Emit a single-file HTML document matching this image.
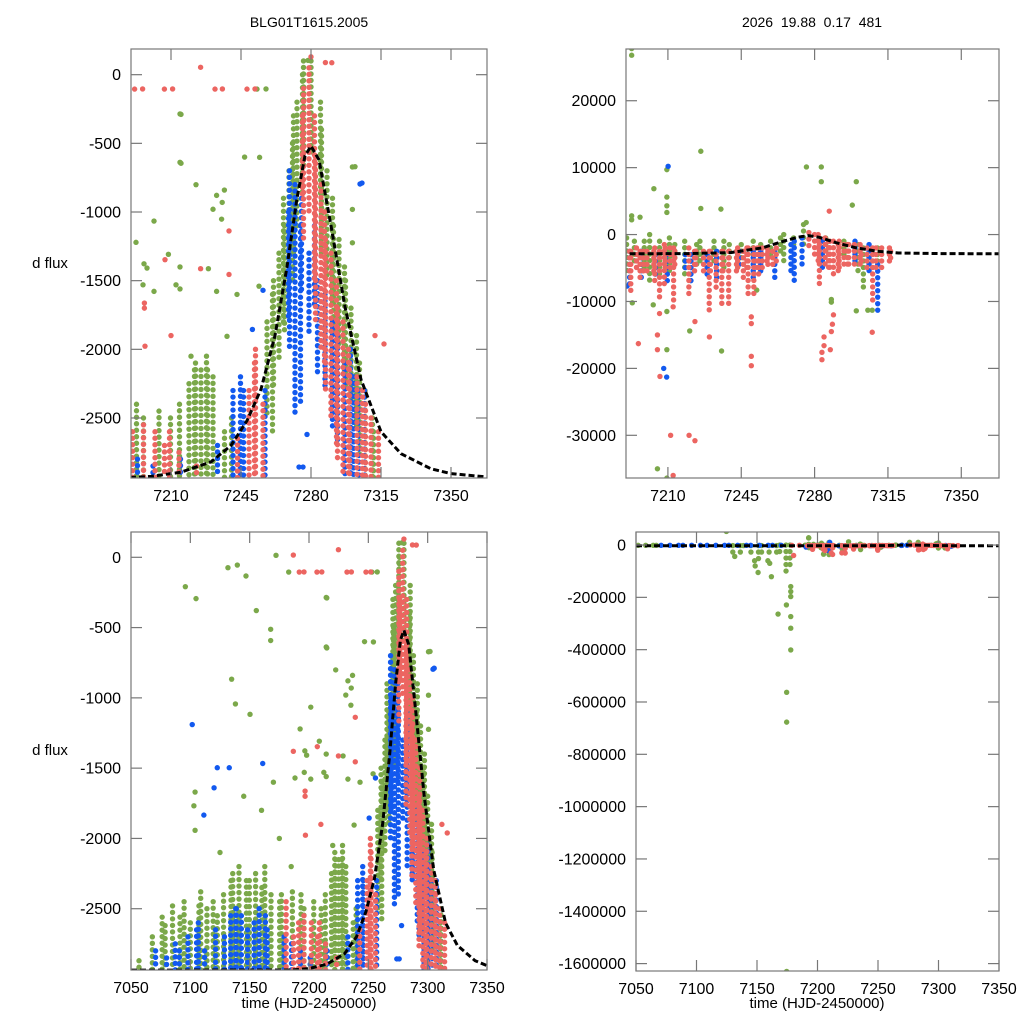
<!DOCTYPE html>
<html><head><meta charset="utf-8">
<style>
html,body{margin:0;padding:0;background:#fff;width:1024px;height:1024px;overflow:hidden;}
svg{display:block;font-family:"Liberation Sans",Arial,sans-serif;}
</style></head>
<body>
<svg id="chart" width="1024" height="1024" viewBox="0 0 1024 1024" xmlns="http://www.w3.org/2000/svg">
<rect x="0" y="0" width="1024" height="1024" fill="#fff"/>
<text x="309" y="27" font-size="14" text-anchor="middle">BLG01T1615.2005</text>
<text x="812" y="27" font-size="14" text-anchor="middle" xml:space="preserve">2026  19.88  0.17  481</text>
<text x="50" y="268" font-size="15" text-anchor="middle">d flux</text>
<text x="50" y="755" font-size="15" text-anchor="middle">d flux</text>
<text x="309" y="1008" font-size="15" text-anchor="middle">time (HJD-2450000)</text>
<text x="817" y="1008" font-size="15" text-anchor="middle">time (HJD-2450000)</text>
<g id="panels"></g>
</svg>
<script>
// ---- tick labels ----
const topXTicks = [7210, 7245, 7280, 7315, 7350];
const bottomXTicks = [7050, 7100, 7150, 7200, 7250, 7300, 7350];
const leftYTicks = [0, -500, -1000, -1500, -2000, -2500];
const topRightYTicks = [20000, 10000, 0, -10000, -20000, -30000];
const bottomRightYTicks = [0, -200000, -400000, -600000, -800000, -1000000, -1200000, -1400000, -1600000];

// ---- model curves ----
const leftModelT = [7050, 7185, 7200, 7215, 7230, 7240, 7248, 7255, 7262, 7268, 7273, 7277, 7280, 7284, 7290, 7297, 7305, 7315, 7325, 7340, 7350, 7368];
const leftModelF = [-2937, -2936, -2925, -2895, -2820, -2700, -2520, -2290, -1900, -1400, -900, -590, -520, -620, -1100, -1690, -2220, -2600, -2760, -2870, -2905, -2930];
const rightModelT = [7050, 7190, 7220, 7240, 7255, 7265, 7272, 7277, 7282, 7290, 7300, 7310, 7320, 7340, 7368];
const rightModelF = [-2900, -2880, -2850, -2700, -2000, -1000, -400, -150, -400, -1200, -2000, -2500, -2750, -2850, -2880];

// ---- left dataset streaks [t, top, bottom] ----
const leftGreenStreaks = [[7058,-2870,-2936],[7068,-2700,-2936],[7075,-2560,-2936],[7080,-2620,-2936],[7085,-2480,-2936],[7090,-2560,-2936],[7096,-2450,-2936],[7100,-2600,-2936],[7106,-2480,-2936],[7110,-2380,-2936],[7114,-2500,-2936],[7118,-2450,-2936],[7124,-2550,-2936],[7128,-2400,-2936],[7133,-2300,-2936],[7137,-2250,-2936],[7141,-2200,-2936],[7146,-2300,-2936],[7151,-2300,-2936],[7155,-2250,-2936],[7159,-2350,-2936],[7164,-2200,-2936],[7168,-2400,-2936],[7174,-2450,-2936],[7178,-2400,-2936],[7186,-2380,-2936],[7192,-2400,-2936],[7197,-2500,-2936],[7204,-2450,-2936],[7209,-2500,-2936],[7215,-2400,-2936],[7219,-2250,-2936],[7221,-2150,-2936],[7223,-2100,-2936],[7225,-2150,-2936],[7227,-2050,-2936],[7229,-2150,-2936],[7231,-2200,-2936],[7236,-2600,-2936],[7241,-2500,-2936],[7258,-1800,-2500],[7260,-1600,-2600],[7262,-1500,-2300],[7264,-1300,-2100],[7266,-1100,-1900],[7267,-900,-1800],[7269,-700,-1600],[7270,-500,-1500],[7272,-300,-1300],[7273,-200,-1100],[7275,0,-900],[7277,100,-700],[7280,100,-600],[7284,-200,-900],[7286,-400,-1300],[7288,-700,-1500],[7290,-900,-1700],[7292,-1100,-1900],[7294,-1200,-2000],[7296,-1400,-2200],[7298,-1500,-2300],[7300,-1700,-2400],[7302,-1900,-2600],[7305,-2100,-2800],[7307,-2300,-2936],[7310,-2500,-2936],[7312,-2600,-2936]];
const leftBlueStreaks = [[7072,-2800,-2936],[7080,-2850,-2936],[7086,-2750,-2936],[7092,-2800,-2936],[7098,-2700,-2936],[7104,-2650,-2936],[7108,-2600,-2936],[7112,-2800,-2936],[7120,-2650,-2936],[7130,-2700,-2936],[7134,-2550,-2936],[7137,-2500,-2936],[7140,-2500,-2936],[7143,-2550,-2936],[7147,-2650,-2936],[7155,-2600,-2936],[7158,-2500,-2936],[7162,-2550,-2936],[7166,-2650,-2936],[7179,-2700,-2936],[7184,-2750,-2936],[7194,-2800,-2936],[7201,-2850,-2936],[7214,-2800,-2936],[7234,-2700,-2936],[7241,-2300,-2936],[7244,-2200,-2936],[7247,-2300,-2936],[7257,-2300,-2936],[7268,-1000,-1800],[7270,-700,-2000],[7272,-800,-2500],[7274,-1100,-2400],[7276,-900,-1600],[7279,-1300,-1900],[7281,-1100,-1700],[7284,-1500,-2200],[7287,-1600,-2300],[7290,-1800,-2600],[7294,-1900,-2700],[7297,-2100,-2936],[7299,-2000,-2936],[7302,-2200,-2936],[7304,-2300,-2936],[7306,-2300,-2936]];
const leftRedStreaks = [[7182,-2450,-2936],[7187,-2700,-2936],[7190,-2600,-2936],[7197,-2550,-2936],[7202,-2600,-2936],[7206,-2700,-2936],[7210,-2600,-2936],[7214,-2750,-2936],[7222,-2850,-2936],[7244,-2650,-2936],[7249,-2300,-2936],[7251,-2100,-2936],[7253,-2000,-2936],[7256,-2400,-2936],[7275,-300,-900],[7277,-100,-1200],[7279,50,-1000],[7281,-300,-1500],[7283,-600,-1800],[7285,-800,-2000],[7286,-1000,-2100],[7288,-1200,-2300],[7290,-1300,-2500],[7292,-1500,-2700],[7294,-1700,-2800],[7296,-1800,-2936],[7298,-2000,-2936],[7300,-2100,-2936],[7303,-2200,-2936],[7305,-2300,-2936],[7308,-2400,-2936],[7310,-2500,-2936],[7313,-2600,-2936]];
// ---- left dataset scattered points [t, flux, colour] ----
const leftPoints = [[7195.8,-104,'r'],[7210.8,-104,'r'],[7224.8,54,'r'],[7235.7,-104,'r'],[7252,-104,'r'],[7257.5,-104,'g'],[7287.2,88,'r'],[7214.5,-286,'g'],[7214.5,-638,'g'],[7222.5,-801,'g'],[7232.8,-879,'g'],[7236.7,-840,'g'],[7254.3,-602,'g'],[7201.5,-1066,'g'],[7235.3,-1052,'g'],[7239,-1138,'r'],[7192.5,-1221,'g'],[7208.7,-1308,'g'],[7207,-1347,'r'],[7224.8,-1413,'r'],[7228.7,-1413,'g'],[7214.5,-1400,'g'],[7196.5,-1377,'g'],[7196.7,-1700,'r'],[7196.7,-1663,'r'],[7196,-1530,'g'],[7201.5,-1578,'g'],[7212.5,-1530,'g'],[7214.5,-1560,'g'],[7232.8,-1578,'g'],[7300.7,-672,'g'],[7304.5,-796,'b'],[7300.7,-981,'g'],[7300.7,-1224,'g'],[7316.5,-1961,'r'],[7312,-1900,'r'],[7254,-1540,'g'],[7256,-1570,'b'],[7250.7,-1855,'b'],[7238,-1905,'g'],[7274,-2857,'b'],[7276,-2857,'b'],[7278,-2620,'b'],[7095.8,-209,'g'],[7104.8,-294,'g'],[7131.7,-74,'g'],[7139.6,-55,'g'],[7146.9,-133,'g'],[7155.6,-379,'g'],[7167.7,-512,'g'],[7167.7,-592,'g'],[7172.2,14,'g'],[7186.8,16,'r'],[7182.9,-105,'g'],[7191.8,-105,'r'],[7206.7,-105,'r'],[7232,-105,'r'],[7248,-105,'r'],[7253,-105,'g'],[7215,-289,'g'],[7215,-645,'g'],[7101.6,-1190,'b'],[7134.8,-867,'g'],[7138,-1043,'g'],[7150.3,-1117,'g'],[7122.7,-1497,'b'],[7132.8,-1497,'b'],[7161,-1467,'b'],[7120,-1640,'b'],[7111.4,-1834,'b'],[7104,-1670,'g'],[7103,-1768,'g'],[7104,-1942,'g'],[7186.8,-1380,'r'],[7239,-1455,'r'],[7197,-1977,'r'],[7198,-1408,'g'],[7188.2,-1570,'g'],[7305.5,-789,'b'],[7302,-670,'g'],[7246.8,-600,'g'],[7235.6,-930,'g'],[7231,-980,'g'],[7278.5,104,'g'],[7280,130,'r'],[7290.4,87,'r'],[7145,-1700,'g'],[7160,-1800,'g'],[7175,-2000,'g'],[7125,-2100,'g'],[7210,-1900,'r'],[7220,-2050,'g'],[7243,-1600,'g'],[7170,-1600,'g'],[7185,-2200,'g']];

// ---- right dataset streaks ----
const rightGreenStreaks = [[7053,-1000,-8000],[7058,-1000,-7000],[7063,-1000,-8000],[7068,-1000,-7000],[7130,-2000,-30000],[7135,-2000,-45000],[7140,-2000,-25000],[7145,-2000,-35000],[7150,-2000,-70000],[7155,-2000,-40000],[7160,-2000,-30000],[7165,-2000,-50000],[7170,0,-30000],[7174,0,-120000],[7176,0,-95000],[7191,-500,-5500],[7194,-1000,-4000],[7198,-1000,-5000],[7202,0,-7500],[7206,-1000,-6000],[7210,-500,-5500],[7214,-1500,-4000],[7218,-1000,-6500],[7223,-1500,-4500],[7226,-1000,-4000],[7232,-1000,-4000],[7236,-1000,-5000],[7240,-1500,-4000],[7245,-1500,-3500],[7250,-1000,-3500],[7255,-1500,-4000],[7259,-1000,-3500],[7263,-500,-2500],[7266,0,-4000],[7270,-500,-2000],[7274,1500,-1500],[7286,-500,-3000],[7294,-1000,-3500],[7300,-1500,-6000],[7304,-2000,-8000],[7310,-2000,-4000]];
const rightBlueStreaks = [[7072,-1000,-9000],[7078,-1000,-9000],[7084,-1000,-9000],[7090,-1000,-15000],[7096,-1000,-9000],[7102,-1000,-9000],[7110,-1000,-9000],[7116,-1000,-9000],[7122,-1000,-9000],[7128,-1000,-9000],[7134,-1000,-9000],[7140,-1000,-9000],[7146,-1000,-12000],[7152,-1000,-9000],[7158,-1000,-9000],[7164,-1000,-12000],[7170,-1000,-9000],[7191,-2500,-7500],[7198,-2500,-6500],[7204,-3000,-6500],[7209,-3000,-7000],[7219,-3000,-5500],[7221,-3000,-7500],[7228,-3000,-6000],[7234,-2500,-7000],[7244,-2500,-5000],[7250,-2500,-6500],[7255,-2500,-5500],[7261,-2500,-6500],[7268,-1500,-5500],[7271,-1000,-7200],[7274,-500,-4500],[7283,-1000,-5000],[7300,-1000,-4500],[7306,-1500,-5500],[7309.4,-4500,-11500]];
const rightRedStreaks = [[7180,-1000,-12000],[7185,-1000,-9000],[7191,-2500,-5500],[7193,-2500,-9000],[7195,-2000,-5000],[7196,-2500,-6500],[7199,-2500,-5500],[7200,-2500,-6000],[7203,-2000,-7000],[7204,-2500,-5500],[7206,-2500,-9500],[7208,-2000,-5000],[7209,-1500,-7500],[7211,-2000,-5500],[7212,-2000,-10500],[7214,-2500,-5000],[7220,-2000,-9000],[7222,-2500,-6000],[7224,-2500,-5000],[7227,-2500,-5500],[7229,-2500,-11700],[7231,-2500,-6000],[7233,-3000,-8000],[7235,-2500,-11000],[7237,-2500,-6000],[7239,-2500,-10800],[7242,-2500,-5500],[7244,-2000,-5000],[7246,-2500,-7000],[7247,-2000,-5500],[7249,-2000,-9000],[7251,-2000,-9500],[7252,-2000,-5500],[7254,-2000,-6000],[7255,-2000,-5000],[7257,-2500,-5000],[7258,-2000,-4500],[7260,-2500,-4500],[7261,-2000,-4000],[7278,300,-2500],[7280,0,-3500],[7281,0,-4500],[7283,-500,-8000],[7285,-500,-4500],[7286,-1000,-5500],[7288,-1000,-5000],[7289,-1000,-6500],[7291,-1000,-5000],[7292,-1500,-5500],[7294,-1500,-5000],[7295,-1500,-4500],[7297,-1500,-5000],[7299,-1500,-5000],[7301,-1500,-4500],[7303,-2000,-4500],[7305,-2000,-5000],[7307,-2000,-10000],[7310,-2000,-5000],[7312,-2000,-5500],[7315,-2000,-4500],[7317,-2500,-4000]];
const rightPoints = [[7192.7,27800,'g'],[7210.1,10200,'b'],[7209.5,9700,'g'],[7225.7,12450,'g'],[7203.3,6850,'g'],[7209.5,5600,'g'],[7209.5,4300,'g'],[7209.5,3300,'g'],[7276.1,10100,'g'],[7283.2,10100,'g'],[7283.2,7900,'g'],[7299.9,7900,'g'],[7298,4400,'g'],[7225.7,3900,'g'],[7235.3,3800,'g'],[7192.7,2800,'g'],[7192.7,2200,'g'],[7196.7,2600,'g'],[7287,3500,'r'],[7276,1800,'g'],[7195.9,-16300,'r'],[7205,-15000,'r'],[7205,-17200,'r'],[7206.2,-21200,'r'],[7209.4,-21300,'b'],[7209.5,-17200,'g'],[7220.4,-14400,'g'],[7222.9,-13000,'r'],[7222.9,-30800,'r'],[7229.8,-15300,'r'],[7235.6,-17400,'g'],[7249.8,-12300,'r'],[7249.8,-13300,'r'],[7249.8,-18200,'r'],[7249.8,-19600,'r'],[7206,-11800,'r'],[7209.5,-11500,'g'],[7203,-10500,'g'],[7212.5,-10800,'r'],[7209.5,-36400,'g'],[7212.5,-36000,'r'],[7283.5,-17600,'r'],[7283.5,-18700,'r'],[7284.5,-16600,'r'],[7284.5,-15300,'r'],[7287.5,-17200,'r'],[7288.5,-13400,'r'],[7288,-14500,'r'],[7299.9,-11400,'g'],[7305.4,-11300,'g'],[7307.5,-11300,'g'],[7307.5,-14600,'r'],[7288,-10100,'g'],[7288,-9700,'g'],[7289,-12000,'r'],[7252.4,-8300,'g'],[7193,-10200,'g'],[7190.5,-7700,'b'],[7124.7,52000,'g'],[7131.6,-43700,'g'],[7150.9,-105000,'g'],[7161.9,-121000,'g'],[7167.4,-264000,'g'],[7174.3,-229000,'g'],[7177.9,-158600,'g'],[7177.9,-177800,'g'],[7177.9,-197000,'g'],[7177.9,-273500,'g'],[7177.9,-318000,'g'],[7177.9,-401000,'g'],[7174.5,-563000,'g'],[7174.5,-677000,'g'],[7174.5,-1630000,'g'],[7192.7,26800,'g'],[7159,-60000,'g'],[7160.5,-70000,'g'],[7148,-60000,'g'],[7148.5,-80000,'g'],[7180.3,-40000,'r'],[7211.3,-30000,'r'],[7220.1,-30000,'r'],[7208,-20000,'b'],[7205,-35000,'g']];

const COLORS = {g:'#7ba84a', b:'#1259ef', r:'#ec6561'};
const NS = 'http://www.w3.org/2000/svg';
const root = document.getElementById('panels');

const PANELS = [
  {id:'top-left', x0:131,x1:487,y0:49,y1:478, tmin:7190,tmax:7368, fmin:-2937,fmax:187, xt:topXTicks, yt:leftYTicks, ds:'left'},
  {id:'top-right', x0:626,x1:999,y0:49,y1:478, tmin:7190,tmax:7368, fmin:-36380,fmax:27730, xt:topXTicks, yt:topRightYTicks, ds:'right'},
  {id:'bottom-left', x0:131,x1:487,y0:532,y1:970, tmin:7050,tmax:7350, fmin:-2936,fmax:180, xt:bottomXTicks, yt:leftYTicks, ds:'left'},
  {id:'bottom-right', x0:636,x1:999,y0:532,y1:971, tmin:7050,tmax:7350, fmin:-1628300,fmax:49800, xt:bottomXTicks, yt:bottomRightYTicks, ds:'right'}
];

function mk(tag, attrs, parent){
  const e = document.createElementNS(NS, tag);
  for (const k in attrs) e.setAttribute(k, attrs[k]);
  parent.appendChild(e);
  return e;
}

PANELS.forEach(function(p){
  const sx = t => p.x0 + (t - p.tmin) / (p.tmax - p.tmin) * (p.x1 - p.x0);
  const sy = f => p.y1 - (f - p.fmin) / (p.fmax - p.fmin) * (p.y1 - p.y0);
  const g = mk('g', {}, root);
  
  
  const cp = mk('clipPath', {id:'clip-' + p.id}, g);
  mk('rect', {x:p.x0, y:p.y0, width:p.x1-p.x0, height:p.y1-p.y0}, cp);
  const plot = mk('g', {'clip-path':'url(#clip-' + p.id + ')'}, g);
  
  

  const sets = p.ds === 'left'
    ? [[leftGreenStreaks,'g'],[leftBlueStreaks,'b'],[leftRedStreaks,'r']]
    : [[rightGreenStreaks,'g'],[rightBlueStreaks,'b'],[rightRedStreaks,'r']];
  const pts = p.ds === 'left' ? leftPoints : rightPoints;
  ['g','b','r'].forEach(function(c){
    sets.forEach(function(s){
      if (s[1] !== c) return;
      s[0].forEach(function(d, i){
        const x = sx(d[0]) + ((i % 3) - 1) * 1.5;
        const y1 = sy(d[1]), y2 = sy(d[2]);
        const ln = mk('line', {x1:x, x2:x, y1:y1, y2:Math.max(y2, y1 + 0.1), stroke:COLORS[c], 'stroke-width':5.4, 'stroke-linecap':'round', 'stroke-dasharray':'0 6.5'}, plot);
        
        
      });
    });
    pts.forEach(function(d){
      if (d[2] !== c) return;
      const ci = mk('circle', {cx:sx(d[0]), cy:sy(d[1]), r:2.7, fill:COLORS[c]}, plot);
      
      
    });
  });

  // model curve
  const mt = p.ds === 'left' ? leftModelT : rightModelT;
  const mf = p.ds === 'left' ? leftModelF : rightModelF;
  let dstr = '';
  mt.forEach(function(t, i){ dstr += (i ? 'L' : 'M') + sx(t).toFixed(1) + ',' + sy(mf[i]).toFixed(1); });
  const model = mk('path', {d:dstr, fill:'none', stroke:'#000', 'stroke-width':3, 'stroke-dasharray':'6 3'}, plot);
  
  

  // frame
  const fr = mk('rect', {x:p.x0, y:p.y0, width:p.x1-p.x0, height:p.y1-p.y0, fill:'none', stroke:'#777', 'stroke-width':1.2}, g);
  
  

  p.yt.forEach(function(v){
    const y = sy(v);
    mk('line', {x1:p.x0, x2:p.x0+11, y1:y, y2:y, stroke:'#777', 'stroke-width':1.2}, g);
    mk('line', {x1:p.x1-11, x2:p.x1, y1:y, y2:y, stroke:'#777', 'stroke-width':1.2}, g);
    const tx = mk('text', {x:p.x0-10, y:y+5.5, 'font-size':16, 'text-anchor':'end'}, g);
    tx.textContent = String(v);
    
    
  });
  p.xt.forEach(function(v){
    const x = sx(v);
    mk('line', {x1:x, x2:x, y1:p.y1, y2:p.y1-11, stroke:'#777', 'stroke-width':1.2}, g);
    mk('line', {x1:x, x2:x, y1:p.y0, y2:p.y0+11, stroke:'#777', 'stroke-width':1.2}, g);
    const tx = mk('text', {x:x, y:p.y1+23, 'font-size':16, 'text-anchor':'middle'}, g);
    tx.textContent = String(v);
    
    
  });
});
</script>
</body></html>
